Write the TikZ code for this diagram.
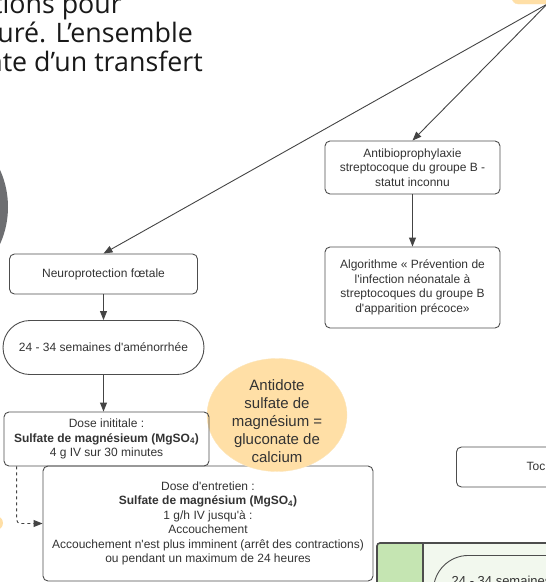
\documentclass[tikz,border=0pt]{standalone}
\usepackage{fontspec}
\newfontfamily\lucidfont{Liberation Sans}
\newfontfamily\bigfont{Open Sans}
\usetikzlibrary{arrows.meta,shapes.geometric}
\definecolor{lineg}{HTML}{4D4D4D}
\definecolor{arrg}{HTML}{444444}
\definecolor{txtg}{HTML}{333333}
\definecolor{peach}{HTML}{FFDFA6}
\definecolor{peachline}{HTML}{FCE6BC}
\definecolor{lanegreen}{HTML}{C5E5B2}
\definecolor{lanebg}{HTML}{F2F8EE}
\definecolor{darkcirc}{HTML}{6D6E71}

\begin{document}
\begin{tikzpicture}[x=1pt, y=-1pt,
    box/.style={draw=lineg, line width=0.9pt, rounded corners=5pt, text=txtg, align=center, inner sep=0pt,
                font=\lucidfont\fontsize{12}{14.5}\selectfont},
    pill/.style={box, rounded corners=27pt},
    intro/.style={anchor=base east, inner sep=0pt, text=black!90, font=\bigfont\fontsize{26.8}{30}\selectfont},
    arr/.style={draw=arrg, line width=0.9pt, -{Triangle[length=9pt,width=7pt]}},
    dasharr/.style={arr, dash pattern=on 3pt off 3pt, rounded corners=4pt}]
    \useasboundingbox (0,0) rectangle (546,582);
    \clip (0,0) rectangle (546,582);

    % text cut at the left edge
    \node[intro] (intro1) at (122,13) {tions pour};
    \node[intro] (intro2) at (193,42) {uré. L’ensemble};
    \node[intro] (intro3) at (203,71.5) {nte d’un transfert};

    % shapes cut at the edges
    \node[circle, fill=darkcirc, minimum size=180pt] (gcirc) at (-82,207) {};
    \node[circle, fill=peach, minimum size=14pt] (odot) at (-4,523) {};
    \node[draw=peachline, fill=peach, rounded corners=6pt, minimum width=70pt, minimum height=44pt] (src) at (547,-18) {};

    % left column
    \node[box, minimum width=188pt, minimum height=40pt] (neuro) at (103.5,274) {Neuroprotection fœtale};
    \node[pill, minimum width=201pt, minimum height=54pt] (sem) at (103.5,347.5) {24 - 34 semaines d'aménorrhée};
    \node[box, minimum width=330pt, minimum height=115pt] (entr) at (208,523.5)
        {Dose d'entretien :\\\textbf{Sulfate de magnésium (MgSO\textsubscript{4})}\\1 g/h IV jusqu'à :\\Accouchement\\Accouchement n'est plus imminent (arrêt des contractions)\\ou pendant un maximum de 24 heures};
    \node[ellipse, draw=peachline, fill=peach, minimum width=140pt, minimum height=113pt] (anti) at (277,415) {};
    \node[text=txtg, align=center, inner sep=0pt, font=\lucidfont\fontsize{15}{18}\selectfont] (antitxt) at (277,421) {Antidote\\sulfate de\\magnésium =\\gluconate de\\calcium};
    \node[box, minimum width=205pt, minimum height=54pt] (init) at (106.5,439)
        {Dose inititale :\\\textbf{Sulfate de magnésieum (MgSO\textsubscript{4})}\\4 g IV sur 30 minutes};

    % right column
    \node[box, minimum width=175pt, minimum height=53pt] (antibio) at (412.5,167.5) {Antibioprophylaxie\\streptocoque du groupe B -\\statut inconnu};
    \node[box, minimum width=175pt, minimum height=81pt] (algo) at (412.5,287.5) {Algorithme « Prévention de\\l'infection néonatale à\\streptocoques du groupe B\\d'apparition précoce»};
    \node[box, minimum width=180pt, minimum height=40pt, anchor=west] (toc) at (456,467) {};
    \node[anchor=west, inner sep=0pt, text=txtg, font=\lucidfont\fontsize{12}{14.5}\selectfont] (toctxt) at (526.5,466) {Toc};

    % green lane
    \begin{scope}
        \clip[rounded corners=3pt] (377,543) rectangle (640,660);
        \fill[lanebg] (377,543) rectangle (640,660);
        \fill[lanegreen] (377,543) rectangle (423,660);
    \end{scope}
    \draw[lineg, line width=1.6pt, rounded corners=3pt] (377,543) rectangle (640,660);
    \draw[lineg, line width=1.6pt] (423,543) -- (423,660);
    \node[box, rounded corners=35pt, minimum width=250pt, minimum height=70pt, anchor=north west] (sem2) at (433,555) {};
    \node[anchor=west, inner sep=0pt, text=txtg, font=\lucidfont\fontsize{13}{16}\selectfont] (sem2txt) at (451.5,580.5) {24 - 34 semaines};

    % connectors
    \draw[arr] (src.south) -- (neuro.north);
    \draw[arr] (src.south) -- (antibio.north);
    \draw[arr] (neuro) -- (sem);
    \draw[arr] (sem.south) -- (sem.south |- init.north);
    \draw[arr] (antibio) -- (algo);
    \draw[dasharr] ([xshift=13pt]init.south west) |- (entr.west);
\end{tikzpicture}
\end{document}
